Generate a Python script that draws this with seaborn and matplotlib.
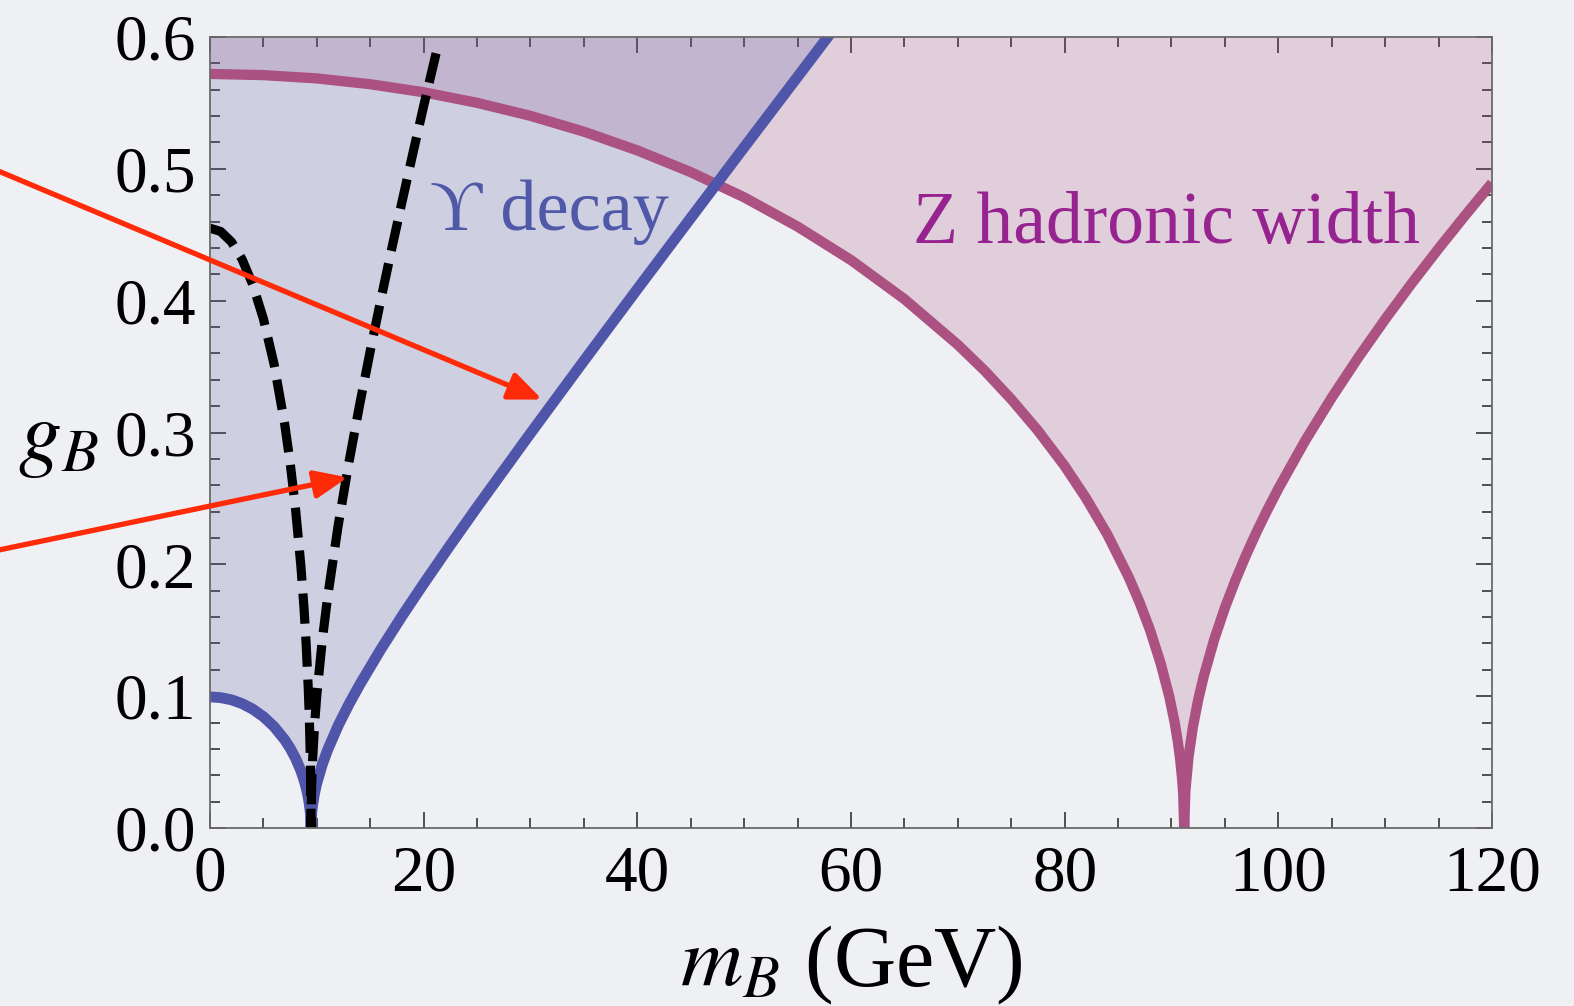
import matplotlib
matplotlib.use("Agg")
import matplotlib.pyplot as plt
from matplotlib.ticker import MultipleLocator
import seaborn as sns

# Upsilon-decay bound on the baryonic gauge coupling (GeV, g_B)
ups_m = [0, 1, 2, 3, 4, 5, 6, 7, 7.5, 8, 8.5, 8.8, 9, 9.15, 9.3, 9.4, 9.46,
         9.52, 9.6, 9.8, 10, 10.5, 11, 12, 13, 14, 16, 18, 20, 22.5, 25, 30,
         35, 40, 45, 50, 55, 58]
ups_g = [0.0995, 0.0989, 0.0973, 0.0944, 0.0902, 0.0845, 0.0769, 0.0669,
         0.0606, 0.0531, 0.0437, 0.0365, 0.0306, 0.0253, 0.0182, 0.0112, 0.0,
         0.0112, 0.0172, 0.0269, 0.0341, 0.0479, 0.0590, 0.0777, 0.0938,
         0.1085, 0.1357, 0.1611, 0.1853, 0.2147, 0.2434, 0.2994, 0.3544,
         0.4088, 0.4627, 0.5164, 0.5698, 0.6019]

# Z hadronic width bound
z_m = [0, 5, 10, 15, 20, 25, 30, 35, 40, 45, 50, 55, 60, 65, 70, 72.5, 75,
       77.5, 80, 82, 84, 86, 87, 88, 89, 89.8, 90.3, 90.6, 90.8, 91.0, 91.1,
       91.19, 91.3, 91.6, 92, 92.5, 93, 94, 95, 96, 97, 98, 99, 100, 102.5,
       105, 107.5, 110, 112.5, 115, 117.5, 120]
z_g = [0.572, 0.5711, 0.5686, 0.5642, 0.5581, 0.5501, 0.5402, 0.5282, 0.514,
       0.4975, 0.4784, 0.4562, 0.4308, 0.4012, 0.3666, 0.347, 0.3253, 0.3014,
       0.2746, 0.2502, 0.2226, 0.1902, 0.1714, 0.150, 0.1245, 0.0995, 0.0799,
       0.065, 0.0529, 0.0369, 0.0254, 0.0, 0.0281, 0.0543, 0.0764, 0.0973,
       0.1145, 0.1431, 0.1671, 0.1882, 0.2074, 0.2252, 0.2417, 0.2574,
       0.2936, 0.3265, 0.3571, 0.3859, 0.4133, 0.4395, 0.4648, 0.4893]

# Dashed contour
dash_m = [0, 1, 2, 3, 4, 5, 6, 7, 7.5, 8, 8.5, 8.8, 9, 9.2, 9.3, 9.4, 9.46,
          9.52, 9.6, 9.8, 10, 10.5, 11, 12, 13, 14, 15, 16, 17, 18, 19, 20,
          21.35]
dash_g = [0.455, 0.4525, 0.4447, 0.4315, 0.4123, 0.3863, 0.3518, 0.306,
          0.2773, 0.2428, 0.1997, 0.167, 0.1401, 0.106, 0.0833, 0.0511, 0.0,
          0.0332, 0.0507, 0.0795, 0.1008, 0.1416, 0.1745, 0.2295, 0.2771,
          0.3207, 0.3618, 0.401, 0.439, 0.4759, 0.5121, 0.5476, 0.594]

x_ticks = [0, 20, 40, 60, 80, 100, 120]
y_ticks = [0.0, 0.1, 0.2, 0.3, 0.4, 0.5, 0.6]
y_tick_labels = ["0.0", "0.1", "0.2", "0.3", "0.4", "0.5", "0.6"]

BG = "#eff0f3"
BLUE = "#4f55a8"
ZCOL = "#ab5283"
RED = "#ff2a08"

sns.set_theme(style="ticks")
plt.rcParams["font.family"] = ["Liberation Serif", "DejaVu Serif"]
plt.rcParams["mathtext.fontset"] = "stix"

fig = plt.figure(figsize=(15.74, 10.06), dpi=100, facecolor=BG)
ax = fig.add_axes([0.1334, 0.1769, 0.8145, 0.7863])
ax.set_facecolor(BG)

# excluded regions
ax.fill_between(z_m, z_g, 0.6, color="#a8477f", alpha=0.2, lw=0, zorder=1)
ax.fill_between(ups_m, ups_g, 0.6, color="#5a5fa8", alpha=0.22, lw=0, zorder=1)

sns.lineplot(x=z_m, y=z_g, color=ZCOL, lw=7.4, estimator=None, sort=False,
             ax=ax, zorder=3, solid_capstyle="butt", solid_joinstyle="round")
sns.lineplot(x=ups_m, y=ups_g, color=BLUE, lw=7.8, estimator=None, sort=False,
             ax=ax, zorder=3, solid_capstyle="butt", solid_joinstyle="round")
sns.lineplot(x=dash_m, y=dash_g, color="black", lw=6.6, estimator=None,
             sort=False, ax=ax, zorder=4, linestyle=(0, (3.3, 1.4)))

ax.set_xlim(0, 120)
ax.set_ylim(0, 0.6)
ax.set_xticks(x_ticks)
ax.set_yticks(y_ticks)
ax.set_yticklabels(y_tick_labels)
ax.xaxis.set_minor_locator(MultipleLocator(5))
ax.yaxis.set_minor_locator(MultipleLocator(0.02))
ax.tick_params(which="both", direction="in", top=True, right=True,
               color="#222222", width=1.1, labelsize=47, labelcolor="black")
ax.tick_params(which="major", length=11.5)
ax.tick_params(which="minor", length=7)
ax.tick_params(axis="x", which="major", pad=12)
ax.tick_params(axis="y", which="major", pad=10)
for s in ax.spines.values():
    s.set_color("#6a6a6a")
    s.set_linewidth(1.3)
    s.set_zorder(5)

ax.set_xlabel("$m_B$ (GeV)", fontsize=62, labelpad=14, color="black")
ax.set_ylabel("$g_B$", fontsize=62, rotation=0, color="black",
              ha="center", va="center")
ax.yaxis.set_label_coords(-0.118, 0.49)

ax.text(20.6, 0.4537, "\u03d2 decay", fontsize=52, color="#5058a8",
        ha="left", va="baseline", zorder=6)
ax.text(65.8, 0.444, "Z hadronic width", fontsize=53, color="#962390",
        ha="left", va="baseline", zorder=6)

arrow_kw = dict(arrowstyle="-|>,head_length=1.0,head_width=0.42",
                color=RED, lw=3.8, mutation_scale=20, shrinkA=0, shrinkB=0)
ax.annotate("", xy=(31.1, 0.325), xytext=(-19.7, 0.498),
            arrowprops=arrow_kw, annotation_clip=False, zorder=7)
ax.annotate("", xy=(12.9, 0.266), xytext=(-19.7, 0.211),
            arrowprops=arrow_kw, annotation_clip=False, zorder=7)

fig.savefig("out.png", dpi=100, facecolor=BG)
